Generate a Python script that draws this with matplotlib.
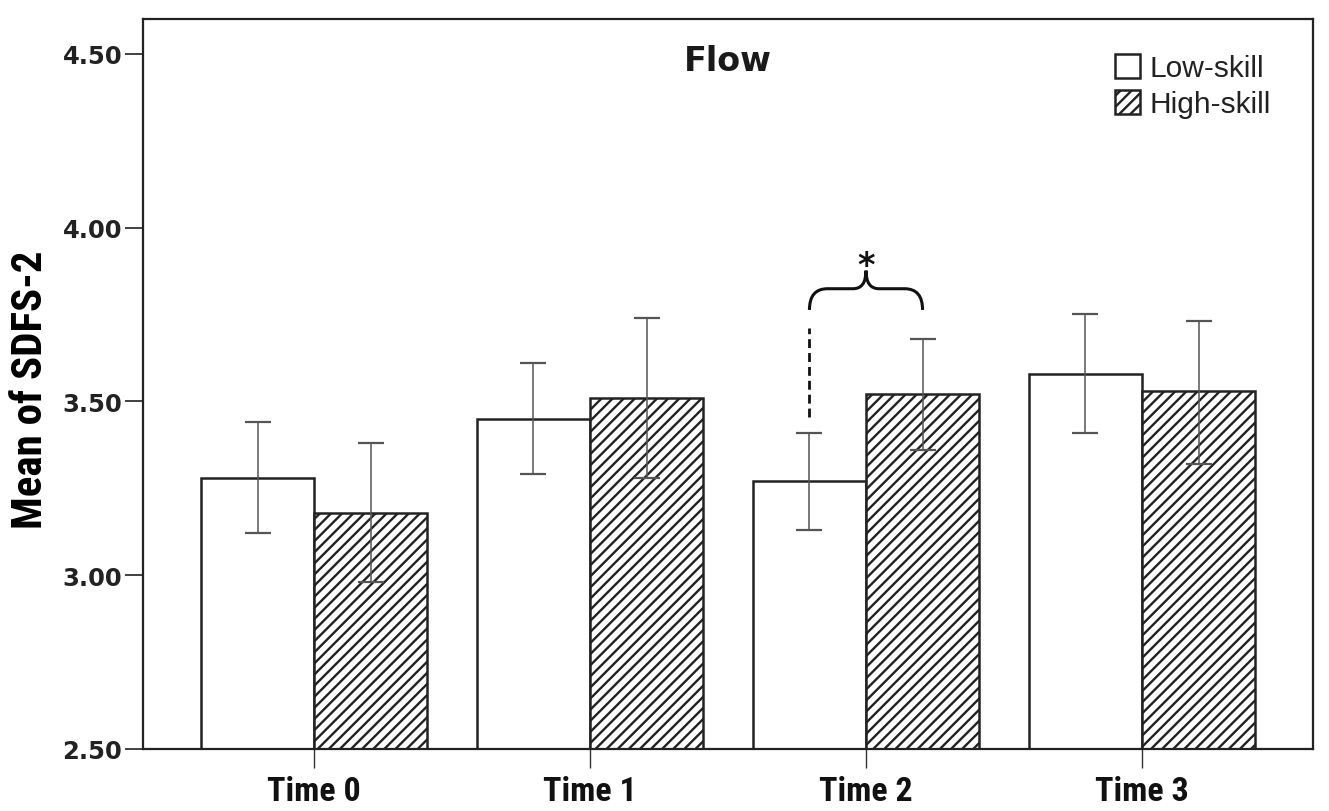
import numpy as np
import matplotlib.pyplot as plt
from matplotlib.path import Path
from matplotlib.patches import PathPatch
from matplotlib import font_manager

# data
times = ["Time 0", "Time 1", "Time 2", "Time 3"]
low_mean = [3.28, 3.45, 3.27, 3.58]
low_upper = [3.44, 3.61, 3.41, 3.75]
low_lower = [3.12, 3.29, 3.13, 3.41]
high_mean = [3.18, 3.51, 3.52, 3.53]
high_upper = [3.38, 3.74, 3.68, 3.73]
high_lower = [2.98, 3.28, 3.36, 3.32]
yticks = [2.50, 3.00, 3.50, 4.00, 4.50]

plt.rcParams['hatch.linewidth'] = 1.7

# pick a condensed face if one is around
names = set(f.name for f in font_manager.fontManager.ttflist)
cond = None
for n in ['Liberation Sans Narrow', 'DejaVu Sans Condensed', 'Roboto Condensed',
          'Open Sans Condensed', 'Noto Sans Condensed', 'Roboto']:
    if n in names:
        cond = n
        break
narrow = [cond, 'DejaVu Sans'] if cond else ['DejaVu Sans']

fig = plt.figure(figsize=(13.29, 8.12), dpi=100)
ax = fig.add_axes([0.1076, 0.0764, 0.8804, 0.899])

x = np.arange(len(times))
w = 0.41
low_mean = np.array(low_mean)
high_mean = np.array(high_mean)

b1 = ax.bar(x - w/2, low_mean - 2.5, w, bottom=2.5, color='white',
            edgecolor='#222222', linewidth=1.8, label='Low-skill', zorder=2)
b2 = ax.bar(x + w/2, high_mean - 2.5, w, bottom=2.5, color='white',
            edgecolor='#222222', linewidth=1.8, hatch='///', label='High-skill', zorder=2)

ax.errorbar(x - w/2, low_mean, yerr=[low_mean - np.array(low_lower), np.array(low_upper) - low_mean],
            fmt='none', ecolor='#555555', elinewidth=1.1, capsize=9.5, capthick=1.6, zorder=3)
ax.errorbar(x + w/2, high_mean, yerr=[high_mean - np.array(high_lower), np.array(high_upper) - high_mean],
            fmt='none', ecolor='#555555', elinewidth=1.1, capsize=9.5, capthick=1.6, zorder=3)

ax.set_xlim(-0.62, 3.62)
ax.set_ylim(2.5, 4.60)
ax.set_yticks(yticks)
ax.set_yticklabels(['%.2f' % v for v in yticks], fontsize=17.5, fontweight='heavy', color='#222222')
ax.set_xticks(x)
ax.set_xticklabels(times, fontsize=24.5, fontweight='bold', family=narrow,
                   fontstretch='condensed', color='#111111')
ax.tick_params(axis='y', length=13, width=1.3, color='#333333', pad=2)
ax.tick_params(axis='x', length=14, width=1.0, color='#333333', pad=5)
for s in ax.spines.values():
    s.set_linewidth(1.6)
    s.set_color('#222222')

ax.set_ylabel('Mean of SDFS-2', fontsize=31, fontweight='bold', family=narrow,
              fontstretch='condensed')
ax.yaxis.set_label_coords(-0.079, 0.493)
ax.text(0.5, 0.9425, 'Flow', transform=ax.transAxes, ha='center', va='center',
        fontsize=24, fontweight='bold', color='#1a1a1a')

# significance brace between Time 2 bars
x0, x2, xm = 2 - w/2, 2 + w/2, 2.0
y0, y1, y2 = 3.763, 3.824, 3.876
verts, codes = [], []
for xe, sgn in [(x0, 1), (x2, -1)]:
    verts += [(xe, y0), (xe, y1), (xe + sgn*0.065, y1), (xm - sgn*0.047, y1), (xm, y1), (xm, y2)]
    codes += [Path.MOVETO, Path.CURVE3, Path.CURVE3, Path.LINETO, Path.CURVE3, Path.CURVE3]
ax.add_patch(PathPatch(Path(verts, codes), facecolor='none', edgecolor='#111111', lw=2.2, zorder=4))
ax.text(xm, 3.89, '*', ha='center', va='center', fontsize=24, fontweight='bold', color='#111111')
ax.plot([x0, x0], [3.455, 3.711], color='#111111', lw=2, dashes=(3.2, 1.8), zorder=4)

fig.legend(handles=[b1, b2], loc='upper left', bbox_to_anchor=(0.839, 0.932),
           frameon=False, prop={'family': 'Liberation Sans', 'size': 21.5},
           handlelength=0.85, handleheight=0.85, handletextpad=0.3,
           labelspacing=0.25, borderpad=0, borderaxespad=0, labelcolor='#222222')

plt.savefig('out.png', dpi=100)
